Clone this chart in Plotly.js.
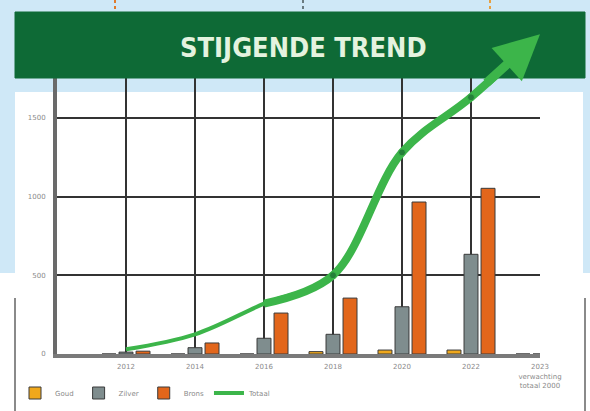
<!DOCTYPE html>
<html>
<head>
<meta charset="utf-8">
<script src="https://cdn.plot.ly/plotly-3.0.1.min.js"></script>
<style>html,body{margin:0;padding:0;background:#fff;}#chart{width:590px;height:411px;}</style>
</head>
<body>
<div id="chart"></div>
<script>
// ---- data ----
const years = ["2012", "2014", "2016", "2018", "2020", "2022", "2023"];
const yearLabels = ["2012", "2014", "2016", "2018", "2020", "2022", "2023<br>verwachting<br>totaal 2000"];
const goud = [0, 0, 0, 15, 25, 25, 0];
const zilver = [12, 40, 100, 125, 300, 633, 0];
const brons = [18, 70, 260, 355, 965, 1052, 0];
const totaal = [30, 125, 320, 500, 1280, 1630, 2030];
const yTicks = [0, 500, 1000, 1500, 2000];
const seriesNames = ["Goud", "Zilver", "Brons", "Totaal"];

// ---- layout helpers ----
const W = 590, H = 411;
const M = {l: 57, r: 50, t: 28, b: 57, autoexpand: false};
const yTop = 2070;
const pw = W - M.l - M.r, ph = H - M.t - M.b;
const px = v => (v - M.l) / pw;
const py = v => (H - M.b - v) / ph;

const lightBlue = '#cfe8f7';
const green = '#3cb54a';
const darkGreen = '#0e6a36';
const thickFrom = 2; // line gets thicker from this point on

const barLine = {color: '#3a3a3a', width: 1};
const traces = [
  {type: 'bar', name: seriesNames[0], x: years, y: goud, marker: {color: '#f0a81c', line: barLine}},
  {type: 'bar', name: seriesNames[1], x: years, y: zilver, marker: {color: '#7f8d8e', line: barLine}},
  {type: 'bar', name: seriesNames[2], x: years, y: brons, marker: {color: '#e2661b', line: barLine}},
  {type: 'scatter', mode: 'lines', name: seriesNames[3], x: years, y: totaal,
   line: {color: green, width: 4, shape: 'spline', smoothing: 1}},
  {type: 'scatter', mode: 'lines+markers', name: seriesNames[3], showlegend: false,
   x: years.slice(thickFrom), y: totaal.slice(thickFrom),
   line: {color: green, width: 8, shape: 'spline', smoothing: 1},
   marker: {color: '#1b6a33', size: totaal.slice(thickFrom).map((v, i, a) => (i > 0 && i < a.length - 1) ? 7 : 0)}}
];

const shapes = [
  {type: 'rect', xref: 'paper', yref: 'paper', layer: 'below', x0: px(0), x1: px(W), y0: py(92), y1: py(0), fillcolor: lightBlue, line: {width: 0}},
  {type: 'rect', xref: 'paper', yref: 'paper', layer: 'below', x0: px(0), x1: px(15), y0: py(273), y1: py(0), fillcolor: lightBlue, line: {width: 0}},
  {type: 'rect', xref: 'paper', yref: 'paper', layer: 'below', x0: px(583), x1: px(W), y0: py(273), y1: py(0), fillcolor: lightBlue, line: {width: 0}},
  {type: 'line', xref: 'paper', yref: 'paper', layer: 'below', x0: px(15), x1: px(15), y0: py(298), y1: py(H), line: {color: '#8a8a8a', width: 2}},
  {type: 'line', xref: 'paper', yref: 'paper', layer: 'below', x0: px(585), x1: px(585), y0: py(298), y1: py(H), line: {color: '#8a8a8a', width: 2}},
  {type: 'line', xref: 'paper', yref: 'paper', layer: 'above', x0: px(115), x1: px(115), y0: py(0), y1: py(12), line: {color: '#e07a2a', width: 2, dash: 'dot'}},
  {type: 'line', xref: 'paper', yref: 'paper', layer: 'above', x0: px(303), x1: px(303), y0: py(0), y1: py(12), line: {color: '#6a7a80', width: 2, dash: 'dot'}},
  {type: 'line', xref: 'paper', yref: 'paper', layer: 'above', x0: px(490), x1: px(490), y0: py(0), y1: py(12), line: {color: '#e8a040', width: 2, dash: 'dot'}},
  {type: 'rect', xref: 'paper', yref: 'paper', layer: 'above', x0: px(15), x1: px(585), y0: py(78), y1: py(12), fillcolor: darkGreen, line: {color: darkGreen, width: 1}}
];

const last = totaal.length - 1;
const annotations = [
  {xref: 'paper', yref: 'paper', x: px(303), y: py(47), text: '<b>STIJGENDE TREND</b>', showarrow: false,
   font: {family: 'DejaVu Sans Condensed, Liberation Sans Narrow, DejaVu Sans', size: 27, color: '#e4f3df'}, xanchor: 'center', yanchor: 'middle'},
  {xref: 'x', yref: 'y', x: last, y: totaal[last], text: '', showarrow: true,
   ax: -55, ay: 50, arrowhead: 2, arrowsize: 1, arrowwidth: 9, arrowcolor: green, standoff: 0}
];

const layout = {
  width: W, height: H,
  margin: M,
  paper_bgcolor: '#ffffff',
  plot_bgcolor: 'rgba(0,0,0,0)',
  barmode: 'group', bargap: 0.26, bargroupgap: 0.18,
  font: {family: 'DejaVu Sans, Arial, sans-serif', size: 7, color: '#8a8a8a'},
  xaxis: {
    type: 'category', categoryorder: 'array', categoryarray: years,
    range: [-1, years.length - 1],
    tickvals: years, ticktext: yearLabels,
    showgrid: true, gridcolor: '#333333', gridwidth: 2,
    showline: true, linecolor: '#7a7a7a', linewidth: 4,
    ticks: '', ticklabelstandoff: 3, tickfont: {size: 7, color: '#8a8a8a'}, zeroline: false, fixedrange: true
  },
  yaxis: {
    range: [0, yTop],
    tickvals: yTicks, ticktext: yTicks.map(String),
    showgrid: true, gridcolor: '#333333', gridwidth: 2,
    showline: true, linecolor: '#6a6a6a', linewidth: 4,
    ticks: '', ticklabelstandoff: 6, tickfont: {size: 7, color: '#8a8a8a'}, zeroline: false, fixedrange: true
  },
  legend: {orientation: 'h', x: px(15), y: py(393), xanchor: 'left', yanchor: 'middle',
           font: {size: 7, color: '#8a8a8a'}, bgcolor: 'rgba(0,0,0,0)', traceorder: 'normal'},
  showlegend: true,
  shapes: shapes,
  annotations: annotations
};

Plotly.newPlot('chart', traces, layout, {displayModeBar: false, staticPlot: true});
</script>
</body>
</html>
